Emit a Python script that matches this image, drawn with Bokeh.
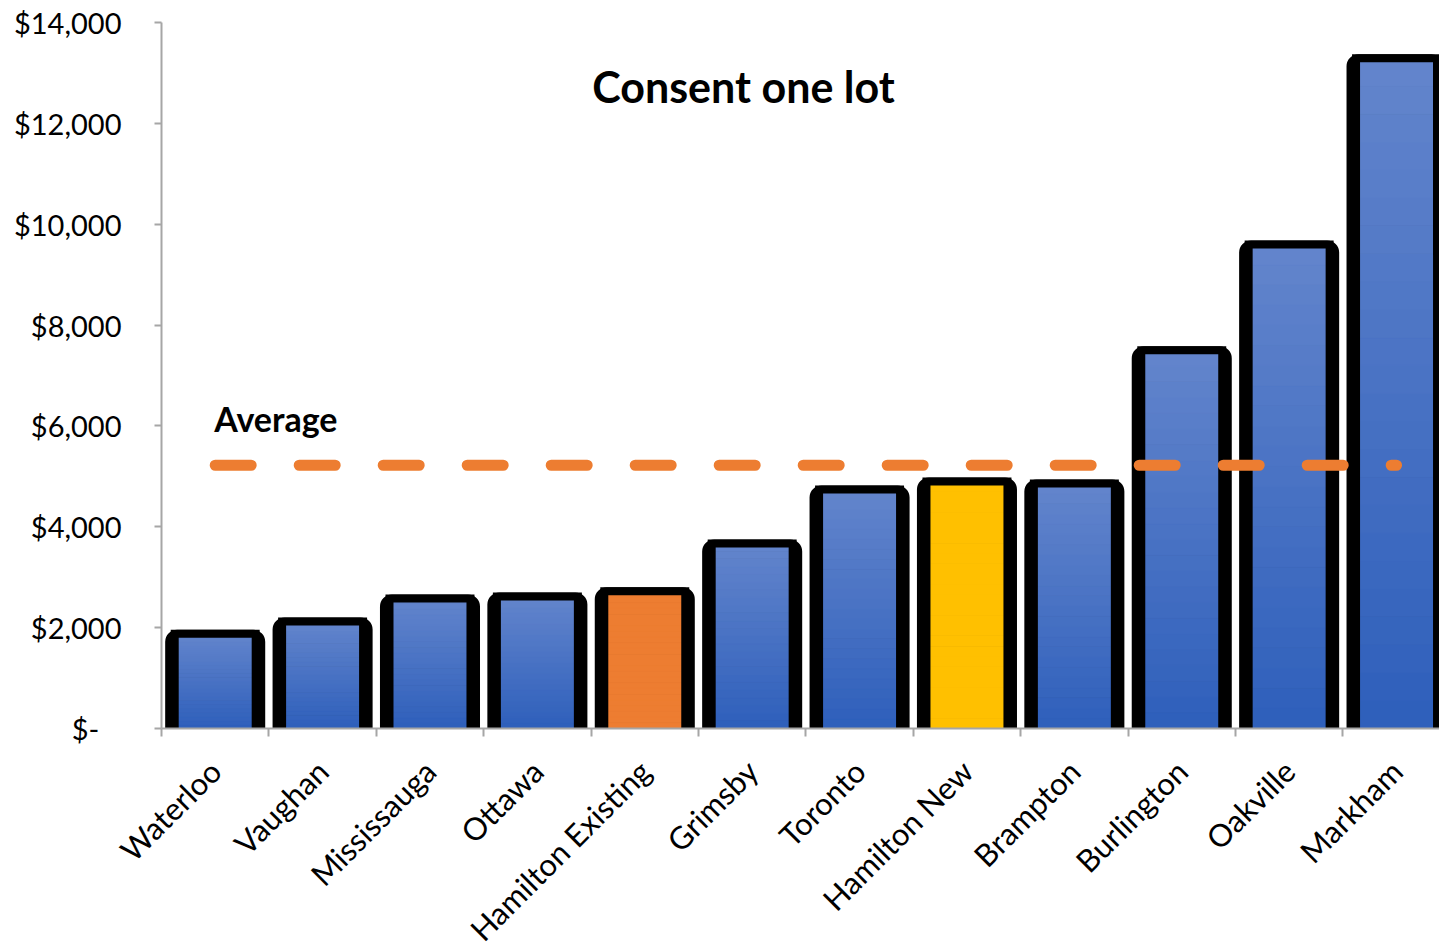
from math import pi
from bokeh.plotting import figure
from bokeh.models import (ColumnDataSource, Range1d, FixedTicker, CustomJSTickFormatter, Label)
from bokeh.embed import file_html
from bokeh.resources import INLINE

# ---- data ----
cities = ["Waterloo", "Vaughan", "Mississauga", "Ottawa", "Hamilton Existing", "Grimsby",
          "Toronto", "Hamilton New", "Brampton", "Burlington", "Oakville", "Markham"]
fees = [1880, 2120, 2580, 2620, 2720, 3670, 4740, 4900, 4860, 7500, 9600, 13290]
average_fee = 5220
y_ticks = [0, 2000, 4000, 6000, 8000, 10000, 12000, 14000]
chart_title = "Consent one lot"
average_label = "Average"
solid_colors = {"Hamilton Existing": "#ED7D31", "Hamilton New": "#FFC000"}

# ---- styling / layout constants ----
GRAY = "#A6A6A6"
TOP_RGB = (0x63, 0x85, 0xCC)
BOT_RGB = (0x2E, 0x5F, 0xBB)
N_SLICES = 24
W, H = 1439, 950
LEFT = 161          # px from left edge to the value axis
TOP = 22            # px from top edge to the 14,000 line
PLOT_H = 706        # px from 14,000 to 0
X_END = 11.9
Y_MAX = 14000
TITLE_X, TITLE_Y = 743, 86   # px from top-left

px_per_x = (W - LEFT) / X_END
px_per_y = PLOT_H / Y_MAX
x_start = -LEFT / px_per_x
y_start = -(H - TOP - PLOT_H) / px_per_y
y_end = Y_MAX + TOP / px_per_y

centers = [i + 0.5 for i in range(len(cities))]
boundaries = list(range(len(cities) + 1))

p = figure(width=W, height=H, x_range=Range1d(x_start, X_END), y_range=Range1d(y_start, y_end),
           output_backend="svg", toolbar_location=None,
           min_border_left=0, min_border_right=0, min_border_top=0, min_border_bottom=0)
p.outline_line_color = None
p.xgrid.visible = False
p.ygrid.visible = False
p.background_fill_color = "white"
p.border_fill_color = "white"

# outer black frame of bars
p.vbar(x=centers, top=fees, bottom=0, width=0.857, fill_color="black", line_color="black",
       line_width=8, border_radius=(8, 8, 0, 0))

# gradient fill slices
xs, bots, tops, cols = [], [], [], []
for c, x, v in zip(cities, centers, fees):
    for k in range(N_SLICES):
        xs.append(x)
        bots.append(v * k / N_SLICES)
        tops.append(v * (k + 1) / N_SLICES)
        if c in solid_colors:
            cols.append(solid_colors[c])
        else:
            t = (k + 0.5) / N_SLICES
            rgb = tuple(int(round(BOT_RGB[j] + (TOP_RGB[j] - BOT_RGB[j]) * t)) for j in range(3))
            cols.append("#%02x%02x%02x" % rgb)
src = ColumnDataSource(dict(x=xs, bottom=bots, top=tops, color=cols))
p.vbar(x="x", bottom="bottom", top="top", width=0.754, source=src,
       fill_color="color", line_color="color", line_width=1)

# inner black outline (its bottom edge lies under the white mask below the axis)
p.vbar(x=centers, top=fees, bottom=[-v for v in fees], width=0.754, fill_alpha=0,
       line_color="black", line_width=8, line_join="miter")

# white mask below the category axis
p.quad(left=x_start, right=X_END, bottom=y_start, top=0, fill_color="white", line_color=None)

# average line
p.line(x=centers, y=[average_fee] * len(centers), line_color="#ED7D31", line_width=11,
       line_dash="36 48", line_cap="round")

p.add_layout(Label(x=centers[0], y=average_fee, y_offset=47, text=average_label,
                   text_font="Lato", text_font_style="bold", text_font_size="34px",
                   text_color="black", text_baseline="alphabetic", text_align="left", x_offset=-1))
p.add_layout(Label(x=TITLE_X, y=H - TITLE_Y, x_units="screen", y_units="screen",
                   text=chart_title, text_font="Lato", text_font_style="bold",
                   text_font_size="43px", text_color="black", text_baseline="middle",
                   text_align="center"))

# y axis, fixed at x = 0
ya = p.yaxis[0]
ya.fixed_location = 0
ya.bounds = (0, Y_MAX)
ya.ticker = FixedTicker(ticks=y_ticks)
ya.formatter = CustomJSTickFormatter(code="""
if (tick == 0) { return "$-\\u00a0\\u00a0\\u00a0"; }
return "$" + Math.round(tick).toLocaleString("en-US");
""")
ya.axis_line_color = GRAY
ya.axis_line_width = 2
ya.major_tick_line_color = GRAY
ya.major_tick_line_width = 2
ya.major_tick_out = 7
ya.major_tick_in = 0
ya.minor_tick_line_color = None
ya.major_label_text_font = "Lato"
ya.major_label_text_font_size = "29px"
ya.major_label_text_color = "black"
ya.major_label_standoff = 33

# category axis, fixed at y = 0
xa = p.xaxis[0]
xa.fixed_location = 0
xa.bounds = (0, len(cities))
xa.ticker = FixedTicker(ticks=centers, minor_ticks=boundaries)
xa.formatter = CustomJSTickFormatter(args=dict(labels=cities),
                                     code="return labels[Math.floor(tick)] || '';")
xa.axis_line_color = GRAY
xa.axis_line_width = 2
xa.major_tick_line_color = None
xa.major_tick_out = 0
xa.major_tick_in = 0
xa.minor_tick_line_color = GRAY
xa.minor_tick_line_width = 2
xa.minor_tick_out = 8
xa.minor_tick_in = 0
xa.major_label_orientation = pi / 4
xa.major_label_text_font = "Lato"
xa.major_label_text_font_size = "31px"
xa.major_label_text_color = "black"
xa.major_label_standoff = 29

open("out.html", "w").write(file_html(p, INLINE))
